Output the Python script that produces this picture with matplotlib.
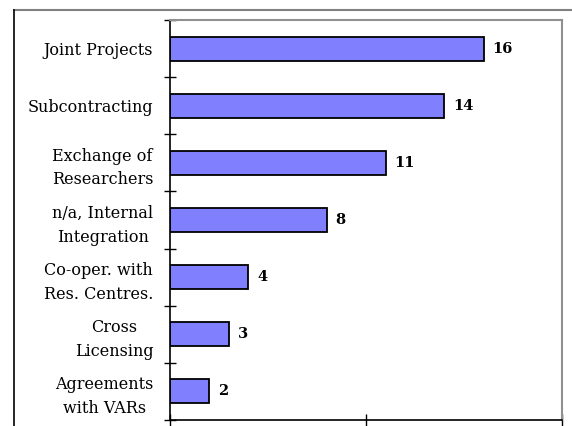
import matplotlib.pyplot as plt
from matplotlib.lines import Line2D

categories = ["Joint Projects", "Subcontracting", "Exchange of\nResearchers",
              "n/a, Internal\nIntegration", "Co-oper. with\nRes. Centres.",
              "Cross\nLicensing", "Agreements\nwith VARs"]
counts = [16, 14, 11, 8, 4, 3, 2]
x_ticks = [0, 10, 20]

plt.rcParams['font.family'] = ['DejaVu Serif']

fig = plt.figure(figsize=(5.72, 4.26), dpi=100)
W, H = 572, 426
ax = fig.add_axes([170 / W, 1 - 420 / H, (562 - 170) / W, (420 - 20) / H])

pos = list(range(len(categories)))
ax.barh(pos, counts, height=0.42, color="#8080ff", edgecolor="black", linewidth=1.3)
for p, v in zip(pos, counts):
    ax.text(v + 0.45, p, str(v), va="center", ha="left", fontsize=10.5, fontweight="bold")

ax.set_ylim(len(categories) - 0.5, -0.5)
ax.set_xlim(0, 20)
ax.set_xticks(x_ticks)
ax.set_xticklabels([])
ax.set_yticks([i - 0.5 for i in range(len(categories) + 1)], minor=False)
ax.set_yticklabels([])
ax.set_yticks(pos, minor=True)
ax.set_yticklabels(categories, minor=True, fontsize=11.5, ha="right",
                   multialignment="center", linespacing=1.5)
ax.tick_params(axis="y", which="minor", length=0, pad=12)
ax.tick_params(axis="both", which="major", direction="inout", length=9, width=1, color="black")

for side in ("top", "right"):
    ax.spines[side].set_color("#909090")
    ax.spines[side].set_linewidth(1.5)
for side in ("left", "bottom"):
    ax.spines[side].set_color("black")
    ax.spines[side].set_linewidth(1.2)

# outer chart frame
fig.add_artist(Line2D([14 / W, 1], [1 - 10 / H, 1 - 10 / H], color="#808080", lw=1.5))
fig.add_artist(Line2D([14 / W, 14 / W], [0, 1 - 10 / H], color="black", lw=1.2))

fig.savefig("out.png", dpi=100)
